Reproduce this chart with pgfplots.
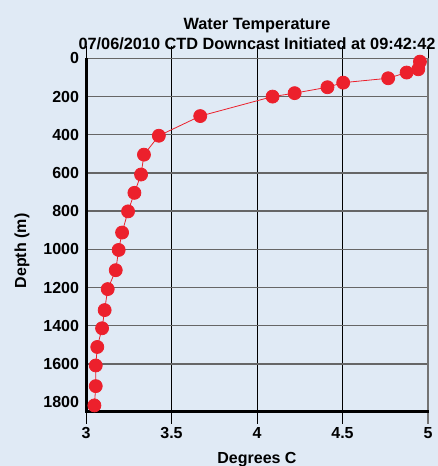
\documentclass[border=0pt]{standalone}
\usepackage{pgfplots}
\pgfplotsset{compat=1.18}
\usepackage{fontspec}
\setmainfont{Liberation Sans}
\definecolor{bg}{RGB}{224,234,245}
\definecolor{dotred}{RGB}{236,32,44}
\begin{document}
\begin{tikzpicture}[x=1pt,y=1pt]
\fill[bg] (0,0) rectangle (438,466);
\useasboundingbox (0,0) rectangle (438,466);
\begin{axis}[
  at={(86pt,54.3pt)}, anchor=south west,
  scale only axis, width=342pt, height=353.3pt,
  xmin=3, xmax=5, ymin=0, ymax=1850, y dir=reverse,
  xtick={3,3.5,4,4.5,5}, ytick={0,200,...,1600},
  extra y ticks={1800}, extra y tick style={grid=none},
  axis line style={draw=none},
  xmajorgrids, ymajorgrids,
  x grid style={black, line width=0.9pt},
  y grid style={black!60, line width=1.4pt},
  tick align=outside, major tick length=12pt,
  xtick style={black, line width=0.9pt},
  ytick style={draw=none},
  /pgf/number format/assume math mode=true,
  /pgf/number format/1000 sep={},
  font=\fontsize{16}{19}\selectfont\bfseries,
  ticklabel style={font=\fontsize{16}{19}\selectfont\bfseries},
  yticklabel style={xshift=8.5pt},
  title={Water Temperature\\07/06/2010 CTD Downcast Initiated at 09:42:42},
  title style={align=center, font=\fontsize{16.3}{20}\selectfont\bfseries, at={(axis description cs:0.5,1)}, anchor=south, inner sep=0pt, yshift=2.5pt},
  every axis x label/.style={at={(axis description cs:0.5,-0.137)}, anchor=center},
  every axis y label/.style={at={(axis description cs:-0.187,0.455)}, rotate=90, anchor=center},
  xlabel={Degrees C},
  ylabel={Depth (m)},
  clip=false,
]
\draw[black!55, line width=2pt] (axis description cs:1,1) -- ([yshift=-12pt]axis description cs:1,0);
\draw[black, line width=3pt] (axis description cs:0,1) -- (axis description cs:0,0) -- ([xshift=1pt]axis description cs:1,0);
\addplot[dotred, line width=0.8pt, mark=*, mark size=6.5pt, mark options={fill=dotred, draw=none}] table {
T d
4.953 17
4.943 57
4.875 74
4.767 104
4.504 127
4.412 151
4.220 182
4.091 200
3.668 302
3.426 405
3.339 504
3.322 608
3.283 704
3.246 801
3.211 912
3.191 1003
3.174 1109
3.127 1208
3.109 1318
3.094 1413
3.066 1511
3.057 1608
3.057 1716
3.049 1817
};
\end{axis}
\end{tikzpicture}
\end{document}
